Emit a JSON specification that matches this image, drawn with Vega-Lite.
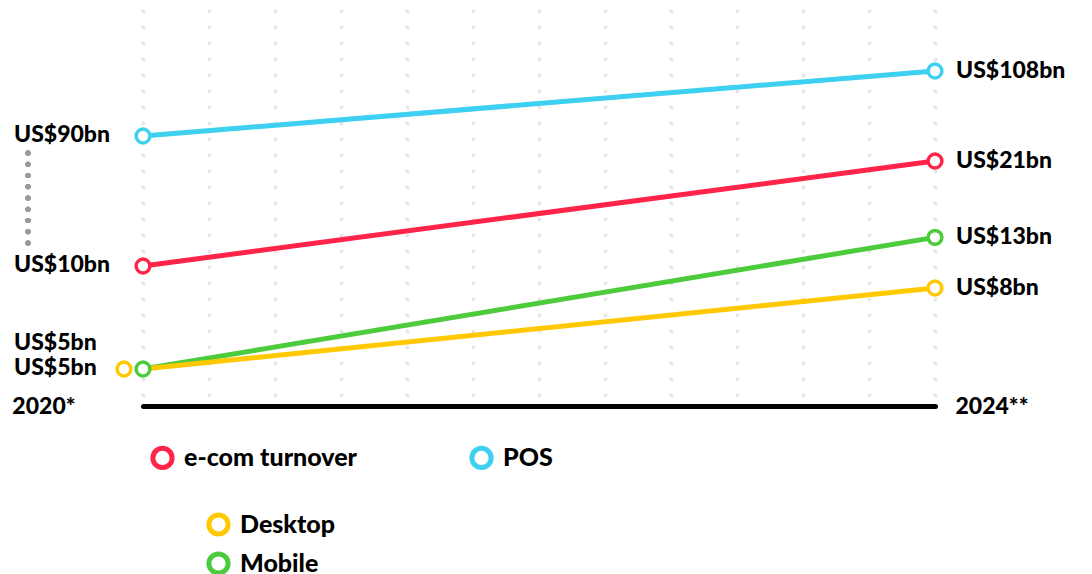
{
  "$schema": "https://vega.github.io/schema/vega-lite/v6.json",
  "width": 792,
  "height": 406,
  "autosize": {"type": "none"},
  "padding": {"left": 143, "top": 0, "right": 157, "bottom": 168},
  "background": "white",
  "config": {"view": {"stroke": null}, "font": "Lato"},
  "data": {
    "values": [
      {"series": "POS", "year": 2020, "value": 90, "label": "US$90bn"},
      {"series": "POS", "year": 2024, "value": 108, "label": "US$108bn"},
      {"series": "e-com turnover", "year": 2020, "value": 10, "label": "US$10bn"},
      {"series": "e-com turnover", "year": 2024, "value": 21, "label": "US$21bn"},
      {"series": "Mobile", "year": 2020, "value": 5, "label": "US$5bn"},
      {"series": "Mobile", "year": 2024, "value": 13, "label": "US$13bn"},
      {"series": "Desktop", "year": 2020, "value": 5, "label": "US$5bn"},
      {"series": "Desktop", "year": 2024, "value": 8, "label": "US$8bn"}
    ]
  },
  "encoding": {
    "x": {
      "field": "year",
      "type": "quantitative",
      "scale": {"domain": [2020, 2024], "zero": false, "nice": false},
      "axis": {
        "title": null,
        "values": [2020, 2020.3333333333333, 2020.6666666666667, 2021, 2021.3333333333333, 2021.6666666666667, 2022, 2022.3333333333333, 2022.6666666666667, 2023, 2023.3333333333333, 2023.6666666666667, 2024],
        "labelExpr": "datum.value == 2020 ? '2020*' : (datum.value == 2024 ? '2024**' : '')",
        "labelAlign": {"condition": {"test": "datum.value < 2022", "value": "right"}, "value": "left"},
        "labelOffset": {"condition": {"test": "datum.value < 2022", "value": -68}, "value": 20},
        "labelBaseline": "middle",
        "labelPadding": 0,
        "labelFlush": false,
        "labelOverlap": false,
        "labelBound": false,
        "labelFont": "Lato",
        "labelFontSize": 23,
        "labelFontWeight": 900,
        "labelColor": "#000000",
        "ticks": false,
        "tickSize": 0,
        "domain": true,
        "domainColor": "#000000",
        "domainWidth": 5,
        "domainCap": "round",
        "grid": true,
        "gridColor": "#e6e6e6",
        "gridWidth": 4,
        "gridDash": [0, 16],
        "gridDashOffset": 5,
        "gridCap": "round"
      }
    },
    "y": {
      "field": "value",
      "type": "quantitative",
      "scale": {"domain": [0, 5, 8, 10, 21, 90, 108, 128], "range": [406, 369, 288, 266, 161, 136, 71, 0], "zero": false, "nice": false},
      "axis": null
    }
  },
  "layer": [
    {
      "mark": {"type": "rule", "strokeWidth": 5, "color": "#9a9a9a", "strokeCap": "round", "strokeDash": [0, 11.25, 0, 11.25, 0, 11.25, 0, 11.25, 0, 11.25, 0, 11.25, 0, 11.25, 0, 11.25, 0, 100], "strokeDashOffset": 173},
      "encoding": {
        "x": {"datum": 2020},
        "xOffset": {"value": -115},
        "y": {"datum": 90},
        "y2": {"datum": 10}
      }
    },
    {
      "transform": [{"filter": "datum.series != 'Desktop'"}],
      "mark": {"type": "line", "strokeWidth": 5},
      "encoding": {
        "color": {
          "field": "series",
          "type": "nominal",
          "scale": {"domain": ["e-com turnover", "POS", "Desktop", "Mobile"], "range": ["#ff2448", "#3dd0f0", "#ffc800", "#4ccb3c"]},
          "legend": {
            "title": null,
            "values": ["e-com turnover", "POS"],
            "orient": "none",
            "direction": "horizontal",
            "legendX": 7,
            "legendY": 445,
            "symbolType": "circle",
            "symbolSize": 370,
            "symbolStrokeWidth": 5,
            "symbolFillColor": "white",
            "labelFont": "Lato",
            "labelFontSize": 25,
            "labelFontWeight": 900,
            "labelColor": "#000000",
            "labelOffset": 9,
            "columnPadding": 103,
            "labelLimit": 400,
            "encode": {"symbols": {"update": {"fill": {"value": "white"}, "strokeWidth": {"value": 5}}}}
          }
        },
        "order": {"field": "year"}
      }
    },
    {
      "transform": [{"filter": "datum.series == 'Desktop'"}],
      "mark": {"type": "line", "strokeWidth": 5},
      "encoding": {
        "color": {"field": "series", "type": "nominal"},
        "order": {"field": "year"}
      }
    },
    {
      "transform": [{"filter": "!(datum.series == 'Desktop' && datum.year == 2020)"}],
      "mark": {"type": "point", "filled": true, "fill": "white", "strokeWidth": 3.5, "size": 190, "opacity": 1},
      "encoding": {
        "stroke": {
          "field": "series",
          "type": "nominal",
          "scale": {"domain": ["Desktop", "Mobile", "e-com turnover", "POS"], "range": ["#ffc800", "#4ccb3c", "#ff2448", "#3dd0f0"]},
          "legend": {
            "title": null,
            "values": ["Desktop", "Mobile"],
            "orient": "none",
            "direction": "vertical",
            "legendX": 63,
            "legendY": 512,
            "symbolType": "circle",
            "symbolSize": 370,
            "symbolStrokeWidth": 5,
            "symbolFillColor": "white",
            "labelFont": "Lato",
            "labelFontSize": 25,
            "labelFontWeight": 900,
            "labelColor": "#000000",
            "labelOffset": 9,
            "rowPadding": -2,
            "labelLimit": 400,
            "encode": {"symbols": {"update": {"fill": {"value": "white"}, "strokeWidth": {"value": 5}}}}
          }
        }
      }
    },
    {
      "transform": [{"filter": "datum.series == 'Desktop' && datum.year == 2020"}],
      "mark": {"type": "point", "filled": true, "fill": "white", "strokeWidth": 3.5, "size": 190, "opacity": 1},
      "encoding": {
        "xOffset": {"value": -19},
        "stroke": {"field": "series", "type": "nominal"}
      }
    },
    {
      "transform": [{"filter": "datum.year == 2020 && datum.series != 'Mobile'"}],
      "mark": {"type": "text", "align": "left", "baseline": "middle", "dx": -129, "dy": -1, "fontSize": 23, "fontWeight": 900, "font": "Lato", "color": "#000000"},
      "encoding": {"text": {"field": "label"}}
    },
    {
      "transform": [{"filter": "datum.year == 2020 && datum.series == 'Mobile'"}],
      "mark": {"type": "text", "align": "left", "baseline": "middle", "dx": -129, "dy": -26, "fontSize": 23, "fontWeight": 900, "font": "Lato", "color": "#000000"},
      "encoding": {"text": {"field": "label"}}
    },
    {
      "transform": [{"filter": "datum.year == 2024"}],
      "mark": {"type": "text", "align": "left", "baseline": "middle", "dx": 21, "dy": 0, "fontSize": 23, "fontWeight": 900, "font": "Lato", "color": "#000000"},
      "encoding": {"text": {"field": "label"}}
    }
  ]
}
